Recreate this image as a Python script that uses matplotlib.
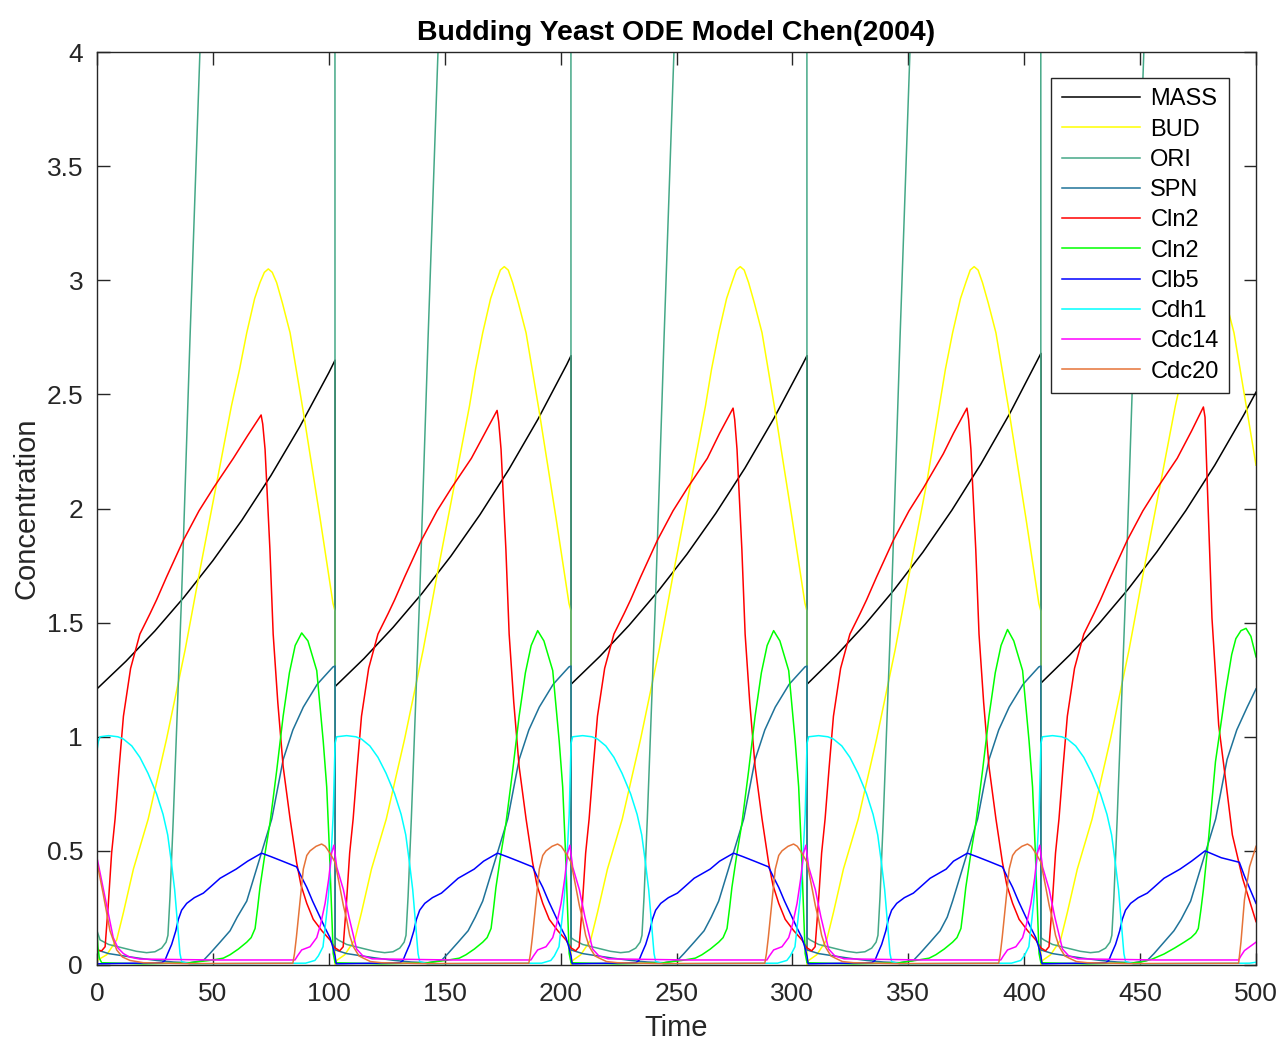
import matplotlib
matplotlib.use("Agg")
import matplotlib.pyplot as plt
from matplotlib.ticker import FormatStrFormatter

plt.rcParams['font.family'] = ['Liberation Sans', 'DejaVu Sans']

# (time, concentration) points, cycle by cycle
mass = [
    (0, 1.21), (12.5, 1.331), (25, 1.464), (37.5, 1.611), (50, 1.772), (62.5, 1.949), (75, 2.144), (87.5, 2.359), (100, 2.595), (102.7, 2.65),
    (102.7, 1.22), (115.2, 1.343), (127.7, 1.479), (140.2, 1.628), (152.7, 1.792), (165.2, 1.973), (177.7, 2.172), (190.2, 2.391), (202.7, 2.632), (204.5, 2.67),
    (204.5, 1.23), (217, 1.353), (229.5, 1.488), (242, 1.637), (254.5, 1.80), (267, 1.98), (279.5, 2.177), (292, 2.395), (304.5, 2.634), (306.3, 2.67),
    (306.3, 1.23), (318.8, 1.355), (331.3, 1.492), (343.8, 1.643), (356.3, 1.809), (368.8, 1.993), (381.3, 2.195), (393.8, 2.417), (406.3, 2.662), (407.2, 2.68),
    (407.2, 1.235), (419.7, 1.359), (432.2, 1.495), (444.7, 1.645), (457.2, 1.81), (469.7, 1.991), (482.2, 2.19), (494.7, 2.41), (500, 2.51),
]

bud = [
    (0, 0.02), (4.2, 0.045), (8.5, 0.11), (11.4, 0.23), (15.7, 0.42), (22.1, 0.64), (30, 0.99), (38, 1.38), (44.4, 1.73), (51.6, 2.11), (58, 2.45), (61.5, 2.61), (64.6, 2.77), (68, 2.92), (70.3, 2.99), (72.2, 3.035), (73.9, 3.05), (75.6, 3.035), (77.5, 2.99), (80, 2.9), (83.3, 2.77), (88.9, 2.43), (96.2, 1.96), (101.8, 1.585), (102.7, 1.55), (102.7, 0.0),
    (103.4, 0.02), (106.9, 0.045), (111.2, 0.11), (114.1, 0.23), (118.4, 0.42), (124.8, 0.64), (132.7, 0.99), (140.7, 1.38), (147.1, 1.73), (154.3, 2.11), (160.7, 2.45), (163.3, 2.61), (166.4, 2.77), (169.8, 2.92), (172.1, 2.99), (174, 3.045), (175.7, 3.06), (177.4, 3.045), (179.3, 2.99), (181.8, 2.9), (185.1, 2.77), (190.7, 2.43), (198, 1.96), (203.6, 1.585), (204.5, 1.55), (204.5, 0.0),
    (205.2, 0.02), (208.7, 0.045), (213, 0.11), (215.9, 0.23), (220.2, 0.42), (226.6, 0.64), (234.5, 0.99), (242.5, 1.38), (248.9, 1.73), (256.1, 2.11), (262.5, 2.45), (265.1, 2.61), (268.2, 2.77), (271.6, 2.92), (273.9, 2.99), (275.8, 3.045), (277.5, 3.06), (279.2, 3.045), (281.1, 2.99), (283.6, 2.9), (286.9, 2.77), (292.5, 2.43), (299.8, 1.96), (305.4, 1.585), (306.3, 1.55), (306.3, 0.0),
    (307, 0.02), (310.5, 0.045), (314.8, 0.11), (317.7, 0.23), (322, 0.42), (328.4, 0.64), (336.3, 0.99), (344.3, 1.38), (350.7, 1.73), (357.9, 2.11), (366, 2.61), (369.1, 2.77), (372.5, 2.92), (374.8, 2.99), (376.7, 3.045), (378.4, 3.06), (380.1, 3.045), (382, 2.99), (384.5, 2.9), (387.8, 2.77), (393.4, 2.43), (400.7, 1.96), (406.3, 1.585), (407.2, 1.55), (407.2, 0.0),
    (407.9, 0.02), (411.4, 0.045), (415.7, 0.11), (418.6, 0.23), (422.9, 0.42), (429.3, 0.64), (437.2, 0.99), (445.2, 1.38), (451.6, 1.73), (458.8, 2.11), (465.2, 2.45), (468.7, 2.61), (471.8, 2.77), (475.2, 2.92), (477.5, 2.99), (479.4, 3.035), (481.1, 3.05), (482.8, 3.035), (484.7, 2.99), (487.2, 2.9), (490.5, 2.77), (496.1, 2.43), (500, 2.19),
]

ori = [
    (0, 0.15), (1.3, 0.11), (5, 0.09), (11.4, 0.074), (17, 0.06), (21.4, 0.054), (25, 0.058), (27.9, 0.074), (29.8, 0.1), (30.6, 0.13), (31.5, 0.3), (32.9, 0.64), (36.5, 1.62), (40.1, 2.74), (44.4, 4.0), (50, 5.6), (102.6, 9.0), (102.7, 0.12),
    (104, 0.11), (107.7, 0.09), (114.1, 0.074), (119.7, 0.06), (124.1, 0.054), (127.7, 0.058), (130.6, 0.074), (132.5, 0.1), (133.3, 0.13), (134.2, 0.3), (135.6, 0.64), (139.2, 1.62), (142.8, 2.74), (147.1, 4.0), (152.7, 5.6), (204.4, 9.0), (204.5, 0.12),
    (205.8, 0.11), (209.5, 0.09), (215.9, 0.074), (221.5, 0.06), (225.9, 0.054), (229.5, 0.058), (232.4, 0.074), (234.3, 0.1), (235.1, 0.13), (236, 0.3), (237.4, 0.64), (241, 1.62), (244.6, 2.74), (248.9, 4.0), (254.5, 5.6), (306.2, 9.0), (306.3, 0.12),
    (307.6, 0.11), (311.3, 0.09), (317.7, 0.074), (323.3, 0.06), (327.7, 0.054), (331.3, 0.058), (334.2, 0.074), (336.1, 0.1), (336.9, 0.13), (337.8, 0.3), (339.2, 0.64), (342.8, 1.62), (346.4, 2.74), (350.7, 4.0), (356.3, 5.6), (407.1, 9.0), (407.2, 0.12),
    (408.5, 0.11), (412.2, 0.09), (418.6, 0.074), (424.2, 0.06), (428.6, 0.054), (432.2, 0.058), (435.1, 0.074), (437, 0.1), (437.8, 0.13), (438.7, 0.3), (440.1, 0.64), (443.7, 1.62), (447.3, 2.74), (451.6, 4.0), (457.2, 5.6), (500, 8.0),
]

spn = [
    (0, 0.066), (5, 0.05), (11.4, 0.04), (18, 0.03), (25.7, 0.02), (33, 0.013), (40.1, 0.01), (45.9, 0.02), (48.7, 0.05), (53.1, 0.1), (57.4, 0.15), (60.5, 0.21), (64.6, 0.28), (70.3, 0.47), (75.4, 0.64), (80.3, 0.9), (84.5, 1.03), (89, 1.13), (95, 1.23), (101.8, 1.306), (102.7, 1.31),
    (102.7, 0.066), (107.7, 0.05), (114.1, 0.04), (120.7, 0.03), (128.4, 0.02), (135.7, 0.013), (142.8, 0.01), (148.6, 0.02), (151.4, 0.05), (155.8, 0.1), (160.1, 0.15), (163.2, 0.21), (166.4, 0.28), (172.1, 0.47), (177.2, 0.64), (182.1, 0.9), (186.3, 1.03), (190.8, 1.13), (196.8, 1.23), (203.6, 1.306), (204.5, 1.31),
    (204.5, 0.066), (209.5, 0.05), (215.9, 0.04), (222.5, 0.03), (230.2, 0.02), (237.5, 0.013), (244.6, 0.01), (250.4, 0.02), (253.2, 0.05), (257.6, 0.1), (261.9, 0.15), (265, 0.21), (268.2, 0.28), (273.9, 0.47), (279, 0.64), (283.9, 0.9), (288.1, 1.03), (292.6, 1.13), (298.6, 1.23), (305.4, 1.306), (306.3, 1.31),
    (306.3, 0.066), (311.3, 0.05), (317.7, 0.04), (324.3, 0.03), (332, 0.02), (339.3, 0.013), (346.4, 0.01), (352.2, 0.02), (355, 0.05), (359.4, 0.1), (363.7, 0.15), (366.8, 0.21), (369.1, 0.28), (374.8, 0.47), (379.9, 0.64), (384.8, 0.9), (389, 1.03), (393.5, 1.13), (399.5, 1.23), (406.3, 1.306), (407.2, 1.31),
    (407.2, 0.066), (412.2, 0.05), (418.6, 0.04), (425.2, 0.03), (432.9, 0.02), (440.2, 0.013), (447.3, 0.01), (453.1, 0.02), (456, 0.05), (460.3, 0.1), (464.6, 0.15), (467.7, 0.2), (471.8, 0.28), (477.5, 0.47), (482.6, 0.64), (487.5, 0.9), (491.7, 1.03), (496.2, 1.13), (500, 1.21),
]

cln2 = [
    (0, 0.066), (2, 0.062), (3.5, 0.08), (4.9, 0.27), (6.3, 0.49), (7.8, 0.64), (9.5, 0.86), (11.4, 1.09), (14.5, 1.3), (18.5, 1.45), (22.9, 1.54), (25.7, 1.6), (30, 1.7), (37.2, 1.86), (44, 1.99), (50.2, 2.09), (58.8, 2.22), (65, 2.32), (70.8, 2.41), (71.5, 2.37), (72.5, 2.26), (74.6, 1.82), (76, 1.45), (78, 1.15), (80.3, 0.87), (83.3, 0.64), (86.1, 0.45), (88, 0.35), (90.5, 0.27), (93.3, 0.2), (97, 0.15), (100.5, 0.11), (102.7, 0.075),
    (104.7, 0.062), (106.2, 0.08), (107.6, 0.27), (109, 0.49), (110.5, 0.64), (112.2, 0.86), (114.1, 1.09), (117.2, 1.3), (121.2, 1.45), (125.6, 1.54), (128.4, 1.6), (132.7, 1.7), (139.9, 1.86), (146.7, 1.99), (152.9, 2.09), (161.5, 2.22), (166.8, 2.32), (172.6, 2.43), (173.3, 2.38), (174.3, 2.26), (176.4, 1.82), (177.8, 1.45), (179.8, 1.15), (182.1, 0.87), (185.1, 0.64), (187.9, 0.45), (189.8, 0.35), (192.3, 0.27), (195.1, 0.2), (198.8, 0.15), (202.3, 0.11), (204.5, 0.075),
    (206.5, 0.062), (208, 0.08), (209.4, 0.27), (210.8, 0.49), (212.3, 0.64), (214, 0.86), (215.9, 1.09), (219, 1.3), (223, 1.45), (227.4, 1.54), (230.2, 1.6), (234.5, 1.7), (241.7, 1.86), (248.5, 1.99), (254.7, 2.09), (263.3, 2.22), (268.6, 2.33), (274.4, 2.44), (275.1, 2.39), (276.1, 2.26), (278.2, 1.82), (279.6, 1.45), (281.6, 1.15), (283.9, 0.87), (286.9, 0.64), (289.7, 0.45), (291.6, 0.35), (294.1, 0.27), (296.9, 0.2), (300.6, 0.15), (304.1, 0.11), (306.3, 0.075),
    (308.3, 0.062), (309.8, 0.08), (311.2, 0.27), (312.6, 0.49), (314.1, 0.64), (315.8, 0.86), (317.7, 1.09), (320.8, 1.3), (324.8, 1.45), (329.2, 1.54), (332, 1.6), (336.3, 1.7), (343.5, 1.86), (350.3, 1.99), (356.5, 2.09), (365.1, 2.24), (369.5, 2.33), (375.3, 2.44), (376, 2.39), (377, 2.26), (379.1, 1.82), (380.5, 1.45), (382.5, 1.15), (384.8, 0.87), (387.8, 0.64), (390.6, 0.45), (392.5, 0.35), (395, 0.27), (397.8, 0.2), (401.5, 0.15), (405, 0.11), (407.2, 0.075),
    (409.2, 0.062), (410.7, 0.08), (412.1, 0.27), (413.5, 0.49), (415, 0.64), (416.7, 0.86), (418.6, 1.09), (421.7, 1.3), (425.7, 1.45), (430.1, 1.54), (432.9, 1.6), (437.2, 1.7), (444.4, 1.86), (451.2, 1.99), (457.4, 2.09), (466, 2.22), (472.2, 2.34), (477.3, 2.445), (478, 2.4), (478.8, 2.16), (481, 1.52), (483.9, 1.05), (486.9, 0.81), (489.8, 0.57), (494.2, 0.38), (500, 0.19),
]

clb2 = [
    (0, 0.15), (0.4, 0.08), (1, 0.03), (2, 0.01), (20, 0.005), (40, 0.01), (48.7, 0.02), (54.5, 0.03), (57.4, 0.045), (61, 0.07), (64.6, 0.1), (66.5, 0.12), (68.2, 0.16), (69.3, 0.25), (70.3, 0.34), (72.5, 0.49), (74.6, 0.62), (77.5, 0.85), (80.3, 1.09), (83, 1.28), (85.5, 1.4), (88.3, 1.455), (91, 1.42), (94.8, 1.29), (97.6, 0.98), (99.1, 0.78), (100.2, 0.52), (101.2, 0.25), (101.9, 0.05), (102.7, 0.01),
    (122.7, 0.005), (142.7, 0.01), (150.5, 0.02), (156.3, 0.03), (159.2, 0.045), (162.8, 0.07), (166.4, 0.1), (168.3, 0.12), (170, 0.16), (171.1, 0.25), (172.1, 0.34), (174.3, 0.49), (176.4, 0.62), (179.3, 0.85), (182.1, 1.09), (184.8, 1.28), (187.3, 1.4), (190.1, 1.465), (192.8, 1.42), (196.6, 1.29), (199.4, 0.98), (200.9, 0.78), (202, 0.52), (203, 0.25), (203.7, 0.05), (204.5, 0.01),
    (224.5, 0.005), (244.5, 0.01), (252.3, 0.02), (258.1, 0.03), (261, 0.045), (264.6, 0.07), (268.2, 0.1), (270.1, 0.12), (271.8, 0.16), (272.9, 0.25), (273.9, 0.34), (276.1, 0.49), (278.2, 0.62), (281.1, 0.85), (283.9, 1.09), (286.6, 1.28), (289.1, 1.4), (291.9, 1.465), (294.6, 1.42), (298.4, 1.29), (301.2, 0.98), (302.7, 0.78), (303.8, 0.52), (304.8, 0.25), (305.5, 0.05), (306.3, 0.01),
    (326.3, 0.005), (346.3, 0.01), (353.2, 0.02), (359, 0.03), (361.9, 0.045), (365.5, 0.07), (369.1, 0.1), (371, 0.12), (372.7, 0.16), (373.8, 0.25), (374.8, 0.34), (377, 0.49), (379.1, 0.62), (382, 0.85), (384.8, 1.09), (387.5, 1.28), (390, 1.4), (392.8, 1.47), (395.5, 1.42), (399.3, 1.29), (402.1, 0.98), (403.6, 0.78), (404.7, 0.52), (405.7, 0.25), (406.4, 0.05), (407.2, 0.01),
    (427.2, 0.005), (447.2, 0.01), (450, 0.012), (455, 0.025), (460.3, 0.048), (465, 0.075), (469, 0.1), (472, 0.12), (474, 0.14), (475.1, 0.16), (476.2, 0.24), (477.3, 0.33), (479.5, 0.55), (482.5, 0.89), (486.9, 1.2), (489.5, 1.36), (491.3, 1.43), (493.5, 1.465), (495.7, 1.475), (497.8, 1.44), (500, 1.35),
]

clb5 = [
    (0, 0.005), (28, 0.01), (29.3, 0.02), (30.5, 0.05), (32.2, 0.09), (34, 0.15), (35.1, 0.2), (36.5, 0.24), (38.7, 0.27), (42, 0.295), (45.9, 0.315), (48.7, 0.34), (53.1, 0.38), (60, 0.42), (65, 0.455), (71, 0.49), (75, 0.475), (80, 0.455), (86.1, 0.43), (88, 0.39), (90.5, 0.34), (93, 0.28), (96.2, 0.21), (98.5, 0.16), (100.5, 0.12), (102, 0.07), (102.7, 0.04),
    (103.2, 0.005), (130.7, 0.01), (132, 0.02), (133.2, 0.05), (134.9, 0.09), (136.7, 0.15), (137.8, 0.2), (139.2, 0.24), (141.4, 0.27), (144.7, 0.295), (148.6, 0.315), (151.4, 0.34), (155.8, 0.38), (162.7, 0.42), (166.8, 0.455), (172.8, 0.49), (176.8, 0.475), (181.8, 0.455), (187.9, 0.43), (189.8, 0.39), (192.3, 0.34), (194.8, 0.28), (198, 0.21), (200.3, 0.16), (202.3, 0.12), (203.8, 0.07), (204.5, 0.04),
    (205, 0.005), (232.5, 0.01), (233.8, 0.02), (235, 0.05), (236.7, 0.09), (238.5, 0.15), (239.6, 0.2), (241, 0.24), (243.2, 0.27), (246.5, 0.295), (250.4, 0.315), (253.2, 0.34), (257.6, 0.38), (264.5, 0.42), (268.6, 0.455), (274.6, 0.49), (278.6, 0.475), (283.6, 0.455), (289.7, 0.43), (291.6, 0.39), (294.1, 0.34), (296.6, 0.28), (299.8, 0.21), (302.1, 0.16), (304.1, 0.12), (305.6, 0.07), (306.3, 0.04),
    (306.8, 0.005), (334.3, 0.01), (335.6, 0.02), (336.8, 0.05), (338.5, 0.09), (340.3, 0.15), (341.4, 0.2), (342.8, 0.24), (345, 0.27), (348.3, 0.295), (352.2, 0.315), (355, 0.34), (359.4, 0.38), (366.3, 0.42), (369.5, 0.455), (375.5, 0.49), (379.5, 0.475), (384.5, 0.455), (390.6, 0.43), (392.5, 0.39), (395, 0.34), (397.5, 0.28), (400.7, 0.21), (403, 0.16), (405, 0.12), (406.5, 0.07), (407.2, 0.04),
    (407.7, 0.005), (435.2, 0.01), (436.5, 0.02), (437.7, 0.05), (439.4, 0.09), (441.2, 0.15), (442.3, 0.2), (443.7, 0.24), (445.9, 0.27), (449.2, 0.295), (453.1, 0.315), (455.9, 0.34), (460.3, 0.38), (467.2, 0.42), (472.2, 0.455), (478, 0.5), (485, 0.47), (492.8, 0.45), (495, 0.39), (497.5, 0.33), (500, 0.27),
]

cdh1 = [
    (0, 0.94), (0.6, 0.98), (1.3, 1.0), (5, 1.005), (9, 1.0), (11.4, 0.99), (15, 0.96), (18.5, 0.91), (22, 0.84), (25.7, 0.75), (28.5, 0.66), (30.5, 0.57), (32.2, 0.44), (33.5, 0.33), (34.4, 0.22), (35.2, 0.12), (35.8, 0.05), (36.5, 0.015), (40, 0.005), (90, 0.008), (94, 0.02), (95.5, 0.04), (97.5, 0.08), (98.8, 0.2), (99.8, 0.3), (100.5, 0.4), (101.2, 0.52), (101.9, 0.66), (102.4, 0.85), (102.7, 0.97),
    (103.4, 1.0), (107.7, 1.005), (111.7, 1.0), (114.1, 0.99), (117.7, 0.96), (121.2, 0.91), (124.7, 0.84), (128.4, 0.75), (131.2, 0.66), (133.2, 0.57), (134.9, 0.44), (136.2, 0.33), (137.1, 0.22), (137.9, 0.12), (138.5, 0.05), (139.2, 0.015), (142.7, 0.005), (191.8, 0.008), (195.8, 0.02), (197.3, 0.04), (199.3, 0.08), (200.6, 0.2), (201.6, 0.3), (202.3, 0.4), (203, 0.52), (203.7, 0.66), (204.2, 0.85), (204.5, 0.97),
    (205.2, 1.0), (209.5, 1.005), (213.5, 1.0), (215.9, 0.99), (219.5, 0.96), (223, 0.91), (226.5, 0.84), (230.2, 0.75), (233, 0.66), (235, 0.57), (236.7, 0.44), (238, 0.33), (238.9, 0.22), (239.7, 0.12), (240.3, 0.05), (241, 0.015), (244.5, 0.005), (293.6, 0.008), (297.6, 0.02), (299.1, 0.04), (301.1, 0.08), (302.4, 0.2), (303.4, 0.3), (304.1, 0.4), (304.8, 0.52), (305.5, 0.66), (306, 0.85), (306.3, 0.97),
    (307, 1.0), (311.3, 1.005), (315.3, 1.0), (317.7, 0.99), (321.3, 0.96), (324.8, 0.91), (328.3, 0.84), (332, 0.75), (334.8, 0.66), (336.8, 0.57), (338.5, 0.44), (339.8, 0.33), (340.7, 0.22), (341.5, 0.12), (342.1, 0.05), (342.8, 0.015), (346.3, 0.005), (394.5, 0.008), (398.5, 0.02), (400, 0.04), (402, 0.08), (403.3, 0.2), (404.3, 0.3), (405, 0.4), (405.7, 0.52), (406.4, 0.66), (406.9, 0.85), (407.2, 0.97),
    (407.9, 1.0), (412.2, 1.005), (416.2, 1.0), (418.6, 0.99), (422.2, 0.96), (425.7, 0.91), (429.2, 0.84), (432.9, 0.75), (435.7, 0.66), (437.7, 0.57), (439.4, 0.44), (440.7, 0.33), (441.6, 0.22), (442.4, 0.12), (443, 0.05), (443.7, 0.015), (447.2, 0.005), (497.2, 0.008), (500, 0.012),
]

cdc14 = [
    (0, 0.47), (2, 0.37), (4.2, 0.26), (7, 0.12), (9, 0.075), (11.4, 0.05), (14, 0.035), (18.5, 0.026), (50, 0.022), (85.4, 0.022), (86.5, 0.04), (88.3, 0.066), (91.9, 0.08), (94.8, 0.12), (96.5, 0.18), (98.4, 0.27), (100, 0.38), (101.2, 0.49), (102.2, 0.525),
    (103.4, 0.43), (106.3, 0.33), (108.7, 0.21), (112, 0.07), (114.7, 0.04), (118.7, 0.027), (152.7, 0.022), (187.2, 0.022), (188.3, 0.04), (190.1, 0.066), (193.7, 0.08), (196.6, 0.12), (198.3, 0.18), (200.2, 0.27), (201.8, 0.38), (203, 0.49), (204, 0.525),
    (205.2, 0.43), (208.1, 0.33), (210.5, 0.21), (213.8, 0.07), (216.5, 0.04), (220.5, 0.027), (254.5, 0.022), (289, 0.022), (290.1, 0.04), (291.9, 0.066), (295.5, 0.08), (298.4, 0.12), (300.1, 0.18), (302, 0.27), (303.6, 0.38), (304.8, 0.49), (305.8, 0.525),
    (307, 0.43), (309.9, 0.33), (312.3, 0.21), (315.6, 0.07), (318.3, 0.04), (322.3, 0.027), (356.3, 0.022), (389.9, 0.022), (391, 0.04), (392.8, 0.066), (396.4, 0.08), (399.3, 0.12), (401, 0.18), (402.9, 0.27), (404.5, 0.38), (405.7, 0.49), (406.7, 0.525),
    (407.9, 0.43), (410.8, 0.33), (413.2, 0.21), (416.5, 0.07), (419.2, 0.04), (423.2, 0.027), (457.2, 0.022), (492.5, 0.022), (493.5, 0.04), (495, 0.063), (500, 0.1),
]

cdc20 = [
    (0, 0.45), (2.7, 0.31), (5.6, 0.15), (8.5, 0.066), (11, 0.035), (14.2, 0.02), (20, 0.01), (40, 0.006), (84.5, 0.008), (85.2, 0.05), (86, 0.12), (86.8, 0.2), (88, 0.32), (89, 0.42), (90.5, 0.48), (91.9, 0.5), (94.5, 0.52), (96.9, 0.53), (98.5, 0.52), (100.5, 0.49), (102.7, 0.45),
    (104.8, 0.34), (106.3, 0.26), (107.7, 0.2), (109, 0.13), (110.6, 0.08), (113, 0.04), (114.9, 0.03), (118, 0.015), (122.7, 0.01), (142.7, 0.006), (186.3, 0.008), (187, 0.05), (187.8, 0.12), (188.6, 0.2), (189.8, 0.32), (190.8, 0.42), (192.3, 0.48), (193.7, 0.5), (196.3, 0.52), (198.7, 0.53), (200.3, 0.52), (202.3, 0.49), (204.5, 0.45),
    (206.6, 0.34), (208.1, 0.26), (209.5, 0.2), (210.8, 0.13), (212.4, 0.08), (214.8, 0.04), (216.7, 0.03), (219.8, 0.015), (224.5, 0.01), (244.5, 0.006), (288.1, 0.008), (288.8, 0.05), (289.6, 0.12), (290.4, 0.2), (291.6, 0.32), (292.6, 0.42), (294.1, 0.48), (295.5, 0.5), (298.1, 0.52), (300.5, 0.53), (302.1, 0.52), (304.1, 0.49), (306.3, 0.45),
    (308.4, 0.34), (309.9, 0.26), (311.3, 0.2), (312.6, 0.13), (314.2, 0.08), (316.6, 0.04), (318.5, 0.03), (321.6, 0.015), (326.3, 0.01), (346.3, 0.006), (389, 0.008), (389.7, 0.05), (390.5, 0.12), (391.3, 0.2), (392.5, 0.32), (393.5, 0.42), (395, 0.48), (396.4, 0.5), (399, 0.52), (401.4, 0.53), (403, 0.52), (405, 0.49), (407.2, 0.45),
    (409.3, 0.34), (410.8, 0.26), (412.2, 0.2), (413.5, 0.13), (415.1, 0.08), (417.5, 0.04), (419.4, 0.03), (422.5, 0.015), (427.2, 0.01), (447.2, 0.006), (492.5, 0.008), (493.5, 0.1), (495, 0.285), (497.2, 0.43), (500, 0.52),
]

series = [
    ('MASS', mass, 'k'),
    ('BUD', bud, (1.0, 1.0, 0.0)),
    ('ORI', ori, (0.27, 0.66, 0.53)),
    ('SPN', spn, (0.12, 0.45, 0.6)),
    ('Cln2', cln2, (1.0, 0.0, 0.0)),
    ('Cln2', clb2, (0.0, 1.0, 0.0)),
    ('Clb5', clb5, (0.0, 0.0, 1.0)),
    ('Cdh1', cdh1, (0.0, 1.0, 1.0)),
    ('Cdc14', cdc14, (1.0, 0.0, 1.0)),
    ('Cdc20', cdc20, (0.9, 0.45, 0.22)),
]

grey = (0.15, 0.15, 0.15)

fig = plt.figure(figsize=(12.78, 10.42), dpi=100)
ax = fig.add_axes([0.0759, 0.0739, 0.9069, 0.8761])

for name, pts, col in series:
    t, y = zip(*pts)
    ax.plot(t, y, color=col, lw=1.1, label=name)

ax.set_xlim(0, 500)
ax.set_ylim(0, 4)
ax.set_xticks(range(0, 501, 50))
ax.set_yticks([i * 0.5 for i in range(9)])
ax.yaxis.set_major_formatter(FormatStrFormatter('%g'))
ax.tick_params(direction='in', length=9, width=1, top=True, right=True,
               labelsize=19, colors=grey)
ax.tick_params(axis='x', pad=12)
ax.tick_params(axis='y', pad=10)
for s in ax.spines.values():
    s.set_color(grey)
    s.set_linewidth(1)

ax.set_xlabel('Time', fontsize=21, color=grey, labelpad=6)
ax.set_ylabel('Concentration', fontsize=21, color=grey, labelpad=4)
ax.set_title('Budding Yeast ODE Model Chen(2004)', fontsize=20.5, fontweight='bold', pad=9)

leg = ax.legend(loc='upper right', bbox_to_anchor=(0.977, 0.972), borderaxespad=0,
                fontsize=17, handlelength=3.3, labelspacing=0.35, fancybox=False,
                framealpha=1, edgecolor=grey, borderpad=0.45, handletextpad=0.45)
leg.get_frame().set_linewidth(1)

fig.savefig('out.png', dpi=100)
